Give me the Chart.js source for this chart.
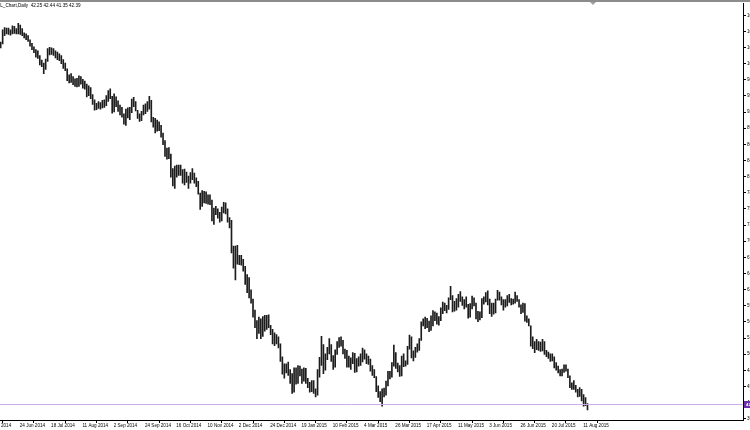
<!DOCTYPE html>
<html>
<head>
<meta charset="utf-8">
<script src="https://cdn.jsdelivr.net/npm/chart.js@4.4.1/dist/chart.umd.min.js"></script>
<style>
  html, body { margin: 0; padding: 0; background: #fff; overflow: hidden; }
  #wrap { position: absolute; left: -40px; top: 0; width: 820px; height: 430px; }
</style>
</head>
<body>
<div id="wrap"><canvas id="oilChart" width="820" height="430"></canvas></div>
<script>
// Step 1: Data
const chartTitle = "CL_Chart,Daily";
const lastOpen = 42.25, lastHigh = 42.44, lastLow = 41.35, lastClose = 42.39;

// daily bars 2 Jun 2014 .. 14 Aug 2015, one row per 16 bars
const lows = [
  101.9,102.1,101.7,101.9,102.2,102.5,103.6,103.5,104.2,105.6,105.9,105.8,105.7,105.9,106.0,105.9,
  105.9,105.8,105.6,105.2,104.9,104.6,103.8,103.2,102.7,101.9,101.7,100.6,100.3,99.1,99.8,101.2,
  102.3,102.4,102.2,101.8,101.5,101.3,100.8,100.0,99.6,97.9,97.5,97.6,97.2,96.9,96.8,96.9,
  97.3,96.6,96.4,95.1,95.3,94.8,93.8,92.8,92.9,93.1,93.0,93.2,93.3,93.6,94.3,94.8,
  92.3,92.5,93.4,92.6,92.0,91.6,90.4,90.2,91.5,91.2,92.4,93.4,92.7,91.4,90.9,91.0,
  92.0,92.2,92.6,93.0,90.8,89.9,88.9,89.2,89.3,88.2,86.9,84.9,84.4,84.5,81.3,79.8,
  79.4,81.3,81.6,81.6,80.3,80.0,80.4,79.4,80.3,80.9,80.3,79.7,78.4,75.8,76.3,76.9,
  76.8,76.7,76.6,73.8,73.2,74.9,74.3,73.6,73.8,75.2,75.0,73.6,72.6,68.3,65.7,63.7,
  66.4,66.3,66.2,65.2,62.9,61.5,60.6,59.7,57.3,55.5,53.6,54.5,53.6,54.0,54.9,55.2,
  55.5,54.3,52.7,52.4,52.7,52.0,49.7,47.5,46.8,47.7,47.3,45.9,44.2,44.4,45.8,45.9,
  47.2,45.9,46.3,45.9,45.2,44.4,44.5,44.2,43.6,43.9,47.0,49.0,47.6,48.2,50.0,51.0,
  49.7,48.3,48.7,50.9,52.1,52.3,51.0,50.2,48.7,48.7,48.3,49.3,47.8,47.9,48.9,49.0,
  49.6,50.1,49.3,49.2,48.0,47.3,46.9,44.5,43.5,42.8,42.0,43.6,43.9,45.5,46.7,47.0,
  48.9,48.5,47.9,47.1,47.2,48.8,48.9,49.2,51.8,50.3,49.8,50.4,51.3,51.6,53.3,55.8,
  55.3,55.5,54.8,55.0,55.8,56.7,56.1,55.9,56.7,57.9,58.4,58.0,58.6,60.3,58.2,58.3,
  58.5,59.0,60.0,59.3,58.7,59.0,57.1,57.3,58.7,59.2,57.0,56.5,56.8,57.2,59.5,59.9,
  59.4,57.9,57.4,57.8,58.0,60.2,60.2,59.4,58.5,59.0,59.2,59.8,59.4,59.5,59.7,60.0,
  59.0,57.9,58.1,56.6,56.4,55.8,52.3,51.9,51.2,51.7,51.6,51.4,51.5,50.9,50.5,50.2,
  49.7,49.8,48.6,48.2,47.7,47.2,47.2,47.8,48.0,46.9,45.2,44.9,44.9,44.4,43.6,43.7,
  42.9,42.0,42.1,41.35
];
const highs = [
  103.0,103.2,102.9,102.9,103.3,104.6,104.6,104.5,106.6,107.0,106.9,106.9,106.6,107.3,107.2,106.8,
  107.7,107.4,106.8,106.1,105.9,105.6,104.9,104.3,103.7,103.2,103.0,102.2,101.4,100.9,101.6,103.4,
  103.6,103.5,103.4,103.0,102.8,102.5,102.2,101.5,100.9,99.9,98.9,99.1,98.6,98.2,98.3,98.7,
  98.6,98.1,97.8,97.3,97.0,96.7,95.5,94.6,94.0,94.3,94.1,94.5,94.6,95.3,96.2,96.5,
  95.2,95.6,95.1,94.4,93.7,93.3,92.2,93.0,93.2,93.3,94.7,95.0,94.3,92.8,92.2,92.6,
  93.7,93.9,94.3,95.2,94.5,91.6,91.4,91.1,90.8,90.2,88.9,87.6,86.3,86.4,85.3,82.8,
  83.2,83.4,83.4,83.4,82.6,82.7,82.2,81.5,82.1,82.8,82.0,81.2,80.6,78.6,79.0,78.9,
  78.8,78.3,78.3,77.4,76.0,76.3,75.9,75.3,76.2,77.0,76.9,75.9,74.4,73.9,69.5,69.5,
  69.6,67.9,67.9,67.2,66.0,64.6,64.1,62.0,60.4,58.5,56.7,57.3,57.0,57.4,57.6,57.6,
  57.7,55.9,55.2,54.6,54.3,53.9,52.7,50.5,49.3,49.3,49.6,48.3,47.6,48.6,48.6,49.0,
  48.9,48.4,48.6,48.5,46.8,46.1,46.4,46.4,45.0,48.3,50.4,54.0,52.6,51.0,52.1,53.6,
  52.6,50.7,51.7,53.1,53.8,53.9,53.3,51.8,51.6,50.6,50.3,51.2,51.1,50.2,50.5,51.0,
  52.0,51.7,51.0,50.6,50.1,49.0,48.3,47.1,45.5,44.5,45.0,45.1,46.3,48.0,48.0,49.5,
  52.5,51.2,49.4,49.0,50.6,51.0,49.8,52.3,54.2,53.9,51.5,52.1,52.7,53.6,56.5,57.0,
  57.3,57.1,56.6,57.5,58.4,58.2,58.0,57.4,58.9,59.9,59.7,59.3,60.6,62.6,61.0,60.0,
  60.5,61.2,61.7,60.8,60.3,60.8,59.5,59.6,60.9,60.6,59.7,58.3,58.2,60.5,60.8,61.5,
  61.8,60.4,59.7,59.7,60.4,61.9,61.6,60.8,60.3,60.3,61.0,61.2,60.5,60.4,61.6,61.0,
  60.3,59.4,59.7,59.6,57.5,57.0,55.8,53.9,53.1,53.5,53.1,53.0,53.5,53.1,51.6,51.3,
  51.0,51.0,50.5,49.5,48.9,48.3,48.4,49.1,49.1,48.4,47.2,46.0,46.4,45.6,44.9,45.2,
  44.9,44.0,43.5,42.44
];

// time axis labels and the bar each one sits on
const dateLabels = ["2 Jun 2014","24 Jun 2014","18 Jul 2014","11 Aug 2014","2 Sep 2014","24 Sep 2014",
  "16 Oct 2014","10 Nov 2014","2 Dec 2014","24 Dec 2014","19 Jan 2015","10 Feb 2015","4 Mar 2015",
  "26 Mar 2015","17 Apr 2015","11 May 2015","3 Jun 2015","26 Jun 2015","20 Jul 2015","11 Aug 2015"];
const dateLabelBars = [0,16,32,48,64,80,96,112,128,144,160,176,192,208,224,240,256,272,288,304];

// price axis grid values
const priceTicks = [39.86,42.63,45.40,48.17,50.94,53.71,56.48,59.25,62.02,64.79,67.56,70.33,73.10,
  75.87,78.64,81.41,84.18,86.95,89.72,92.49,95.26,98.03,100.80,103.57,106.34,109.11];

// Step 2: Canvas context
const ctx = document.getElementById("oilChart").getContext("2d");
const tinyFont = { family: "'Liberation Sans', Arial, sans-serif", size: 4.6 };

// draws the bid line, price box, window border and header text
const mt4Overlay = {
  id: "mt4Overlay",
  afterDraw(chart) {
    const c = chart.ctx;
    const area = chart.chartArea;
    const yPix = chart.scales.y.getPixelForValue(lastClose);
    c.save();
    // bid line
    c.strokeStyle = "#cfade8";
    c.lineWidth = 1;
    c.beginPath();
    c.moveTo(area.left, Math.round(yPix) + 0.5);
    c.lineTo(area.right, Math.round(yPix) + 0.5);
    c.stroke();
    // price box on the axis
    c.fillStyle = "#6f2fb3";
    c.fillRect(area.right + 1, Math.round(yPix) - 3, 30, 7);
    c.fillStyle = "#fff";
    c.font = "bold 4.3px 'Liberation Sans', Arial, sans-serif";
    c.textBaseline = "middle";
    c.fillText(lastClose.toFixed(2), area.right + 3, Math.round(yPix) + 0.5);
    // top frame
    c.fillStyle = "#8c8c8c";
    c.fillRect(0, 0, chart.width, 2);
    c.fillStyle = "#a0a0a0";
    c.beginPath();
    c.moveTo(40 + 590, 2);
    c.lineTo(40 + 596, 2);
    c.lineTo(40 + 593, 5);
    c.closePath();
    c.fill();
    // header text
    c.fillStyle = "#000";
    c.font = "4.6px 'Liberation Sans', Arial, sans-serif";
    c.textBaseline = "top";
    c.fillText(chartTitle + "  " + [lastOpen, lastHigh, lastLow, lastClose].map(v => v.toFixed(2)).join(" "), 37, 3.5);
    c.restore();
  }
};

// Step 3: Chart creation
const oilChart = new Chart(ctx, {
  type: "bar",
  data: {
    datasets: [{
      data: lows.map((lo, i) => ({ x: i, y: [lo, highs[i]] })),
      backgroundColor: "#1c1c1c",
      borderWidth: 0,
      barThickness: 1
    }]
  },
  options: {
    responsive: false,
    animation: false,
    devicePixelRatio: 1,
    layout: { padding: { top: 3, left: 0, right: 0, bottom: 0 } },
    plugins: { legend: { display: false }, tooltip: { enabled: false } },
    scales: {
      x: {
        type: "linear",
        min: -13.8,
        max: 386.5,
        offset: false,
        afterBuildTicks: scale => { scale.ticks = dateLabelBars.map(v => ({ value: v })); },
        afterFit: scale => { scale.height = 10; },
        ticks: {
          autoSkip: false,
          maxRotation: 0,
          align: "start",
          labelOffset: 1.5,
          padding: 0,
          color: "#000",
          font: tinyFont,
          callback: v => dateLabels[dateLabelBars.indexOf(v)]
        },
        grid: { drawOnChartArea: false, tickLength: 3, color: "#000" },
        border: { display: true, color: "#000", width: 1 }
      },
      y: {
        position: "right",
        min: 39.64,
        max: 111.08,
        afterBuildTicks: scale => { scale.ticks = priceTicks.map(v => ({ value: v })); },
        afterFit: scale => { scale.width = 37; },
        ticks: {
          autoSkip: false,
          padding: 1,
          color: "#000",
          font: tinyFont,
          callback: v => v.toFixed(2)
        },
        grid: { drawOnChartArea: false, tickLength: 3, color: "#000" },
        border: { display: true, color: "#000", width: 1 }
      }
    }
  },
  plugins: [mt4Overlay]
});
</script>
</body>
</html>
